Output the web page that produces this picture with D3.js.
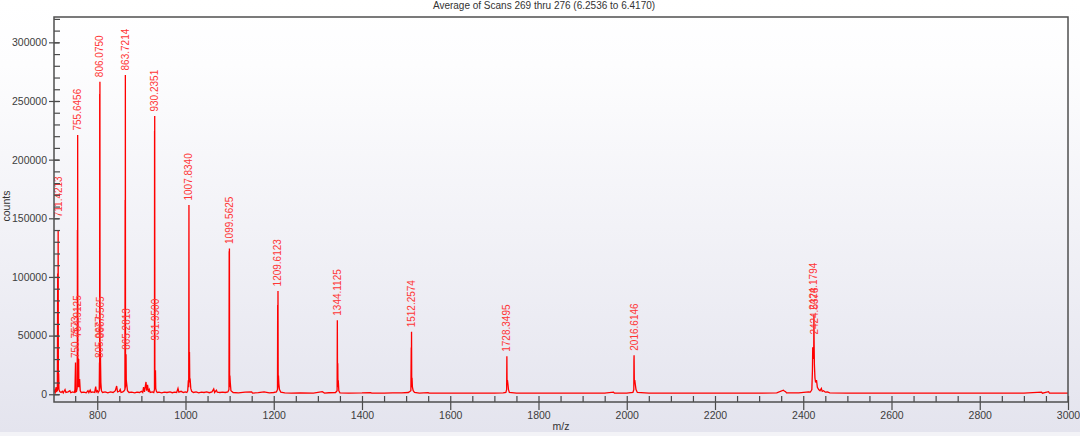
<!DOCTYPE html>
<html><head><meta charset="utf-8">
<script src="https://cdn.jsdelivr.net/npm/d3@7"></script>
<style>body{margin:0;background:#fff} svg{display:block}</style>
</head><body><svg id="c" width="1080" height="436"></svg>
<script>
const titleText = "Average of Scans 269 thru 276 (6.2536 to 6.4170)";
const xTitle = "m/z";
const yTitle = "counts";
const xMajorTicks = [800, 1000, 1200, 1400, 1600, 1800, 2000, 2200, 2400, 2600, 2800, 3000];
const yMajorTicks = [0, 50000, 100000, 150000, 200000, 250000, 300000];

const profileMz = [702,703.5,705,706.5,708,709.6,710.4,710.9,711.42,711.9,712.5,713.2,715,718,721,723,727,729,734,738,740,744,748,749.5,750.76,751.3,753,754.4,754.91,755.1,755.4,755.65,756.1,756.6,757.2,757.91,758.4,760,761.5,764,770,775,779,781,784,786,790,794,796.5,798,800.5,802,804.5,805.07,805.4,805.6,805.9,806.08,806.4,806.56,807.1,808.2,809.5,812,818,824,830,836,841,844,846,850,852,854,858,861,862.7,863.2,863.45,863.72,864.1,864.7,865.28,865.8,867,868.5,872,878,885,890,896,900,903,905,907,909,910.5,912,914,916,918,920,925,928,929.7,929.9,930.1,930.24,930.6,931.2,931.95,932.6,934,936,940,946,952,958,965,970,975,980,983,985,990,995,1000,1003,1005,1006.5,1007.3,1007.83,1008.3,1009,1009.6,1010.5,1012,1014,1018,1024,1030,1036,1042,1048,1054,1060,1064,1066,1070,1072,1078,1084,1090,1096,1098.5,1099,1099.3,1099.56,1100,1100.6,1101.5,1103,1108,1120,1135,1150,1152,1165,1178,1190,1200,1206,1208.5,1208.9,1209.2,1209.61,1210.1,1210.7,1211.6,1213,1216,1225,1240,1260,1290,1310,1315,1325,1340,1343.6,1344.11,1344.6,1345.1,1345.6,1346.2,1347.5,1350,1370,1400,1420,1422,1450,1470,1490,1505,1510.8,1511.6,1511.9,1512.26,1512.7,1513.4,1514.3,1516,1519,1530,1550,1552,1600,1650,1700,1720,1726,1727.8,1728.35,1728.8,1729.6,1730.6,1732,1734,1750,1800,1850,1900,1950,1970,1972,2000,2014,2016,2016.3,2016.61,2017.2,2018.2,2019.5,2021,2024,2050,2100,2200,2300,2340,2355,2357,2360,2362,2390,2412,2416,2418,2419.5,2420.8,2421.5,2422.2,2423,2423.7,2424.18,2424.54,2425.3,2426.5,2428,2430,2432,2435,2438,2441,2443,2446,2450,2455,2460,2500,2600,2700,2800,2900,2940,2942,2956,2958,3000];
const profileCounts = [1500,3000,1800,6000,2500,3000,103000,4000,140000,8000,18000,4000,2200,1500,2500,1200,4000,1500,2000,3000,1300,2000,1500,4000,27000,2000,2500,5000,45000,140000,6000,221000,12000,31000,8000,30000,6000,13000,3000,1500,1800,1200,3000,1500,3500,1500,2000,1500,6500,2000,3000,1500,3000,27000,4000,256000,5000,266500,8000,44000,36000,10000,3000,1500,2000,1200,2000,1500,3000,7000,2000,2500,4000,1500,2000,3000,4000,165500,5000,272200,6000,32000,34000,12000,8000,3000,1500,1800,1200,1800,1500,2500,1500,6000,2000,7000,10500,3000,8000,2000,4000,1500,2000,1500,4000,224400,6000,237200,6000,8000,20500,5000,2500,1500,1800,1200,1800,1500,2000,1300,1800,1500,5000,1800,2500,1500,2000,1500,3000,12000,6000,161300,10000,36000,14000,13000,5000,2500,1500,2000,1200,1800,1500,2000,1300,2000,4500,1500,3500,1800,1500,1800,1500,2000,4000,122000,6000,124300,8000,16000,10000,3000,1500,1200,1800,2000,1000,1400,2000,1200,1500,2000,4000,76000,5000,88100,10000,16000,9000,4000,1800,1200,1000,1200,1000,2200,1000,1300,1500,3000,63100,8000,26400,6000,12000,3000,1200,1000,1100,1400,900,1000,1200,1100,1500,3000,39800,6000,53200,8000,14000,6000,3000,1500,1000,1400,900,900,900,900,1100,1500,4000,32400,8000,12000,9000,4000,1500,900,900,900,900,900,1800,900,900,1500,4000,29000,33300,10000,12000,8000,4000,1500,900,900,900,900,1100,3500,2800,2200,1200,1100,2000,1800,3000,4000,20000,40000,35000,38000,30000,68000,47000,25000,14000,10000,12000,6000,4000,3000,5000,2500,3000,1800,2000,1200,900,900,900,900,900,1800,900,2200,900,900];

const labelTexts = ["711.4213","750.7573","754.9125","755.6456","805.0677","806.5565","806.0750","863.7214","865.2813","930.2351","931.9500","1007.8340","1099.5625","1209.6123","1344.1125","1512.2574","1728.3495","2016.6146","2424.5378","2424.1794"];
const labelMz = [711.42,750.76,754.91,755.65,805.07,806.56,806.08,863.72,865.28,930.24,931.95,1007.83,1099.56,1209.61,1344.11,1512.26,1728.35,2016.61,2424.54,2424.18];
const labelCounts = [147000,27000,45000,221000,27000,44000,266500,272200,34000,237200,42000,161300,124300,88100,63100,53200,32400,33300,47000,68000];

const W = 1080, H = 436;
const L = 54, R = 1068, T = 17, B = 402;
const svg = d3.select("#c");
const font = "'Liberation Sans', Arial, sans-serif";

const defs = svg.append("defs");
const grad = defs.append("linearGradient").attr("id","bg").attr("x1",0).attr("y1",0).attr("x2",0).attr("y2",1);
grad.append("stop").attr("offset","0").attr("stop-color","#ffffff");
grad.append("stop").attr("offset","0.15").attr("stop-color","#fdfdfe");
grad.append("stop").attr("offset","1").attr("stop-color","#e4e4ee");
svg.append("rect").attr("x",0).attr("y",0).attr("width",W).attr("height",432).attr("fill","url(#bg)");
svg.append("rect").attr("x",0).attr("y",432).attr("width",W).attr("height",4).attr("fill","#f3f3f7");

defs.append("clipPath").attr("id","clip").append("rect").attr("x",L).attr("y",T).attr("width",R-L).attr("height",B-T);

const x = d3.scaleLinear().domain([702, 3000]).range([L, R]);
const y = d3.scaleLinear().domain([-6600, 321600]).range([B, T]);

// Title
svg.append("text").attr("x",544).attr("y",8.5).attr("text-anchor","middle")
  .attr("font-family",font).attr("font-size","10px").attr("fill","#333").text(titleText);

// Spectrum
const pts = profileMz.map((m,i)=>[m, profileCounts[i]]);
const g = svg.append("g").attr("clip-path","url(#clip)");
g.append("path").datum(pts)
  .attr("d", d3.line().x(d=>x(d[0])).y(d=>y(d[1])))
  .attr("fill","none").attr("stroke","#ff0000").attr("stroke-width",1.3).attr("stroke-linejoin","miter");

// Peak labels
g.selectAll("text.pk").data(labelTexts).join("text").attr("class","pk")
  .attr("transform",(d,i)=>`translate(${x(labelMz[i])},${y(labelCounts[i])-4.5}) rotate(-90)`)
  .attr("dy","0.35em")
  .attr("font-family",font).attr("font-size","10px").attr("fill","#ff3535")
  .text(d=>d);

// Axes
const axisColor = "#4a4a4a";
function styleAxis(sel){
  sel.select(".domain").remove();
  sel.selectAll("line").attr("stroke",axisColor).attr("stroke-width",1.2);
  sel.selectAll("text").attr("font-family",font).attr("font-size","10.5px").attr("fill","#3c3c3c");
}
const xMinor = d3.range(750, 3001, 50);
svg.append("g").attr("transform",`translate(0,${B})`)
  .call(d3.axisBottom(x).tickValues(xMinor).tickSize(-6).tickFormat("")).call(styleAxis);
svg.append("g").attr("transform",`translate(0,${B})`)
  .call(d3.axisBottom(x).tickValues(xMajorTicks).tickSize(8).tickPadding(2).tickFormat(d3.format("d"))).call(styleAxis);

const yMinor = d3.range(0, 320001, 10000);
svg.append("g").attr("transform",`translate(${L},0)`)
  .call(d3.axisLeft(y).tickValues(yMinor).tickSize(-6).tickFormat("")).call(styleAxis);
svg.append("g").attr("transform",`translate(${L},0)`)
  .call(d3.axisLeft(y).tickValues(yMajorTicks).tickSize(5).tickPadding(2).tickFormat(d3.format("d"))).call(styleAxis);
svg.append("g").attr("transform",`translate(${L},0)`)
  .call(d3.axisLeft(y).tickValues(yMajorTicks).tickSize(-5).tickFormat("")).call(styleAxis);

// Frame
svg.append("rect").attr("x",L).attr("y",T).attr("width",R-L).attr("height",B-T)
  .attr("fill","none").attr("stroke","#4f4f4f").attr("stroke-width",1.5);

// Axis titles
svg.append("text").attr("x",(L+R)/2).attr("y",430).attr("text-anchor","middle")
  .attr("font-family",font).attr("font-size","10.5px").attr("fill","#333").text(xTitle);
svg.append("text").attr("transform","translate(10,206) rotate(-90)").attr("text-anchor","middle")
  .attr("font-family",font).attr("font-size","10.5px").attr("fill","#333").text(yTitle);
</script></body></html>
